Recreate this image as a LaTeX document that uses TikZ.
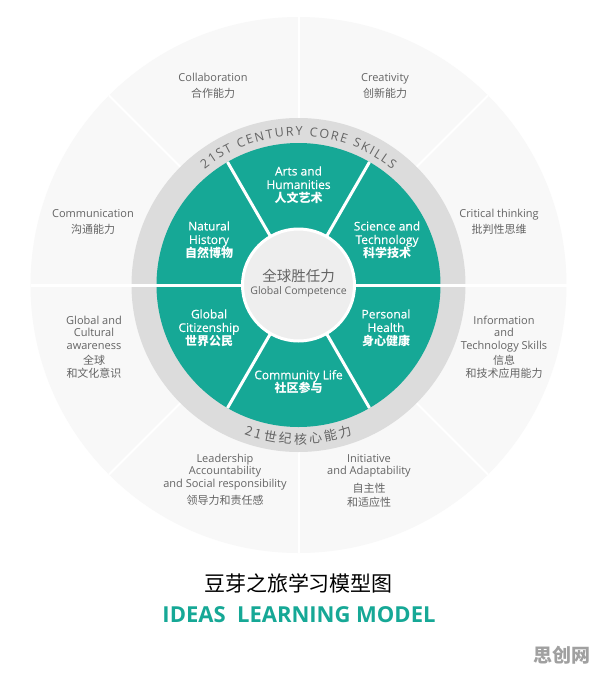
\documentclass[tikz,border=0pt]{standalone}
\usepackage{fontspec}
\usepackage{tikz}
\usetikzlibrary{positioning,calc,decorations.text}
\setmainfont{Open Sans}
\newfontfamily\cjk{Noto Sans CJK SC}
\newfontfamily\semisans{Open Sans}[FakeBold=0.3]
\definecolor{IdeaTeal}{RGB}{22,168,150}
\definecolor{RingGray}{RGB}{220,220,220}
\definecolor{OuterFill}{RGB}{248,248,248}
\definecolor{CoreFill}{RGB}{238,238,238}
\definecolor{LabelGray}{RGB}{100,100,100}
\definecolor{MarkGray}{RGB}{160,160,160}

\begin{document}
\begin{tikzpicture}[x=1pt,y=1pt,
outerlbl/.style={align=center,text=LabelGray,inner sep=0pt,font=\fontsize{11}{12.5}\selectfont},
seclbl/.style={align=center,text=white,inner sep=0pt,font=\semisans\fontsize{12}{13.5}\selectfont},
divider/.style={draw=white,line width=3pt}
]
\fill[white] (0,0) rectangle (596,-673);
\useasboundingbox (0,0) rectangle (596,-673);
\coordinate (O) at (298.5,-285);
% outer band with eight skills
\fill[OuterFill] (O) circle[radius=268pt];
\foreach \a in {45,90,...,360} \draw[divider,line width=2pt] (O) -- ++(\a:268pt);
\fill[RingGray] (O) circle[radius=167pt];
\fill[IdeaTeal] (O) circle[radius=142pt];
\foreach \a in {60,120,240,300} \draw[divider] (O) -- ++(\a:142pt);
\draw[divider] ($(O)+(-268,0)$) -- ($(O)+(268,0)$);
\fill[CoreFill,draw=white,line width=3pt] (O) circle[radius=56pt];
% ring texts
\path[decorate,decoration={text along path,text align={fit to path},text color=LabelGray,
  text={|\fontsize{12.5}{12.5}\selectfont|21ST CENTURY CORE SKILLS}}]
  (O) ++(129:149pt) arc[start angle=129,end angle=51,radius=149pt];
\path[decorate,decoration={text along path,text align={fit to path},text color=LabelGray,
  text={|\cjk\fontsize{13}{13}\selectfont|21世纪核心能力}}]
  (O) ++(250:159pt) arc[start angle=250,end angle=290,radius=159pt];
% centre
\node[align=center,inner sep=0pt,text=LabelGray] (core) at (298.5,-283)
  {{\cjk\fontsize{14.5}{16}\selectfont 全球胜任力}\\[1pt]{\fontsize{10.5}{12}\selectfont Global Competence}};
% teal sectors
\node[seclbl] (arts) at (298.5,-185) {Arts and\\Humanities\\{\cjk\bfseries 人文艺术}};
\node[seclbl] (nature) at (209,-240) {Natural\\History\\{\cjk\bfseries 自然博物}};
\node[seclbl] (science) at (387,-240) {Science and\\Technology\\{\cjk\bfseries 科学技术}};
\node[seclbl] (citizen) at (209,-328) {Global\\Citizenship\\{\cjk\bfseries 世界公民}};
\node[seclbl] (health) at (386,-328) {Personal\\Health\\{\cjk\bfseries 身心健康}};
\node[seclbl] (community) at (298.5,-382) {Community Life\\{\cjk\bfseries 社区参与}};
% outer skills
\node[outerlbl] (collab) at (213,-86) {Collaboration\\[3pt]{\cjk 合作能力}};
\node[outerlbl] (create) at (385,-86) {Creativity\\[3pt]{\cjk 创新能力}};
\node[outerlbl] (comm) at (93,-222) {Communication\\[3pt]{\cjk 沟通能力}};
\node[outerlbl] (critic) at (499,-222) {Critical thinking\\[3pt]{\cjk 批判性思维}};
\node[outerlbl] (culture) at (94,-347) {Global and\\Cultural\\awareness\\[3pt]{\cjk 全球}\\{\cjk 和文化意识}};
\node[outerlbl] (infotech) at (504,-347) {Information\\and\\Technology Skills\\[3pt]{\cjk 信息}\\{\cjk 和技术应用能力}};
\node[outerlbl] (leader) at (225,-480) {Leadership\\Accountability\\and Social responsibility\\[5pt]{\cjk 领导力和责任感}};
\node[outerlbl] (initiative) at (369,-481) {Initiative\\and Adaptability\\[5pt]{\cjk 自主性}\\[2pt]{\cjk 和适应性}};
% titles
\node[inner sep=0pt] (title) at (298.5,-583) {\cjk\fontsize{21}{24}\selectfont 豆芽之旅学习模型图};
\node[inner sep=0pt,text=IdeaTeal] (subtitle) at (299,-615) {\fontsize{22}{26}\selectfont\bfseries IDEAS\ \ LEARNING MODEL};
\node[inner sep=0pt,text=MarkGray] (mark) at (562,-655) {\cjk\bfseries\fontsize{19}{22}\selectfont 思创网};
\end{tikzpicture}
\end{document}
